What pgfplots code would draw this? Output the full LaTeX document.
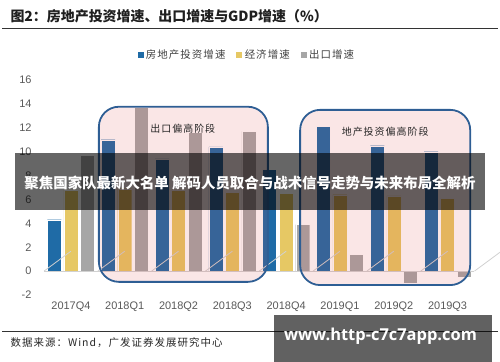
\documentclass[border=0pt]{standalone}
\usepackage{pgfplots}
\pgfplotsset{compat=1.18}
\usepackage{fontspec}
\setmainfont{Liberation Sans}
\newfontfamily\cjk{Noto Sans CJK SC}
\newfontfamily\cjkls[LetterSpace=10]{Noto Sans CJK SC}
\newfontfamily\wm{Open Sans}
\definecolor{cblue}{HTML}{1F6BA6}
\definecolor{cyellow}{HTML}{E6C864}
\definecolor{cgray}{HTML}{A6A6A6}
\definecolor{ticktext}{HTML}{595959}
\definecolor{boxline}{HTML}{2E5E94}
\definecolor{pinkov}{RGB}{220,60,60}
\pgfplotsset{sqlegend/.style={legend image code/.code={\fill[##1] (0bp,-3.5bp) rectangle (7bp,3.5bp);}}}
\begin{document}
\begin{tikzpicture}
\path[use as bounding box] (0,0) rectangle (500bp,362bp);
\begin{axis}[
  at={(44bp,67bp)}, anchor=south west,
  width=430.5bp, height=215bp, scale only axis,
  xmin=-0.5, xmax=7.5, ymin=-2, ymax=16,
  xtick={0,1,2,3,4,5,6,7},
  xticklabels={2017Q4,2018Q1,2018Q2,2018Q3,2018Q4,2019Q1,2019Q2,2019Q3},
  ytick={-2,0,2,4,6,8,10,12,14,16},
  axis line style={draw=none},
  major tick length=0pt,
  /pgf/number format/assume math mode=true,
  tick label style={font=\fontsize{11}{13}\selectfont, text=ticktext},
  xticklabel style={yshift=-3bp},
  yticklabel style={xshift=-9bp},
  legend style={at={(0.47,1.116)}, anchor=center, draw=none, fill=none,
    font=\fontsize{10.5}{12}\selectfont\cjkls\color{black!75},
    /tikz/every even column/.append style={column sep=8bp}},
  legend columns=3,
  clip=false,
]
\addplot[ybar, bar width=0.26, bar shift=-0.307, fill=cblue, draw=white!70, line width=0.3bp, sqlegend]
  coordinates {(0,4.3) (1,11.0) (2,9.4) (3,10.4) (4,8.5) (5,12.1) (6,10.5) (7,10.0)};
\addlegendentry{房地产投资增速}
\addplot[ybar, bar width=0.26, bar shift=0, fill=cyellow, draw=white!70, line width=0.3bp, sqlegend]
  coordinates {(0,6.8) (1,6.9) (2,6.8) (3,6.6) (4,6.5) (5,6.4) (6,6.3) (7,6.1)};
\addlegendentry{经济增速}
\addplot[ybar, bar width=0.26, bar shift=0.307, fill=cgray, draw=white!70, line width=0.3bp, sqlegend]
  coordinates {(0,9.7) (1,13.7) (2,11.6) (3,11.7) (4,3.9) (5,1.4) (6,-1.0) (7,-0.5)};
\addlegendentry{出口增速}
\draw[color=black!18, line width=0.8bp] (axis cs:-0.5,0) -- (axis cs:7.5,0);
\draw[color=black!18, line width=0.8bp]
  (axis cs:-0.5,0) -- ++(0,-4bp) (axis cs:0.5,0) -- ++(0,-4bp)
  (axis cs:1.5,0) -- ++(0,-4bp) (axis cs:2.5,0) -- ++(0,-4bp)
  (axis cs:3.5,0) -- ++(0,-4bp) (axis cs:4.5,0) -- ++(0,-4bp)
  (axis cs:5.5,0) -- ++(0,-4bp) (axis cs:6.5,0) -- ++(0,-4bp)
  (axis cs:7.5,0) -- ++(0,-4bp);
\fill[pinkov, fill opacity=0.13, rounded corners=20bp] (axis cs:0.52,13.76) rectangle (axis cs:3.66,-0.9);
\draw[boxline, line width=1.8bp, rounded corners=20bp] (axis cs:0.52,13.76) rectangle (axis cs:3.66,-0.9);
\fill[pinkov, fill opacity=0.13, rounded corners=20bp] (axis cs:4.26,13.5) rectangle (axis cs:7.42,-1.17);
\draw[boxline, line width=1.8bp, rounded corners=20bp] (axis cs:4.26,13.5) rectangle (axis cs:7.42,-1.17);
\node[font=\fontsize{10}{12}\selectfont\cjkls, text=black!85] at (axis cs:2.08,11.9) {出口偏高阶段};
\node[font=\fontsize{10}{12}\selectfont\cjkls, text=black!85] at (axis cs:5.84,11.67) {地产投资偏高阶段};
\end{axis}
% title and rules
\node[anchor=west, font=\fontsize{14}{16}\selectfont\cjk\bfseries, text=black!88] at (7bp,346bp) {图2：房地产投资增速、出口增速与GDP增速（\%）};
\draw[black!80, line width=1.2bp] (2bp,333.7bp) -- (498bp,333.7bp);
\draw[black!80, line width=1bp] (2bp,30bp) -- (498bp,30bp);
\node[anchor=west, font=\fontsize{10.5}{12}\selectfont\cjkls, text=black!85] at (7bp,19bp) {数据来源：Wind，广发证券发展研究中心};
% overlays
\fill[black, fill opacity=0.6] (15bp,152bp) rectangle (485bp,208.7bp);
\node[font=\fontsize{14.5}{16}\selectfont\cjk\bfseries, text=white] at (250bp,179bp) {聚焦国家队最新大名单 解码人员取合与战术信号走势与未来布局全解析};
\fill[black, fill opacity=0.62] (274bp,0bp) rectangle (492bp,47bp);
\node[font=\fontsize{16.5}{18}\selectfont\wm\bfseries, text=white] at (380.5bp,26bp) {www.http-c7c7app.com};
\end{tikzpicture}
\end{document}
